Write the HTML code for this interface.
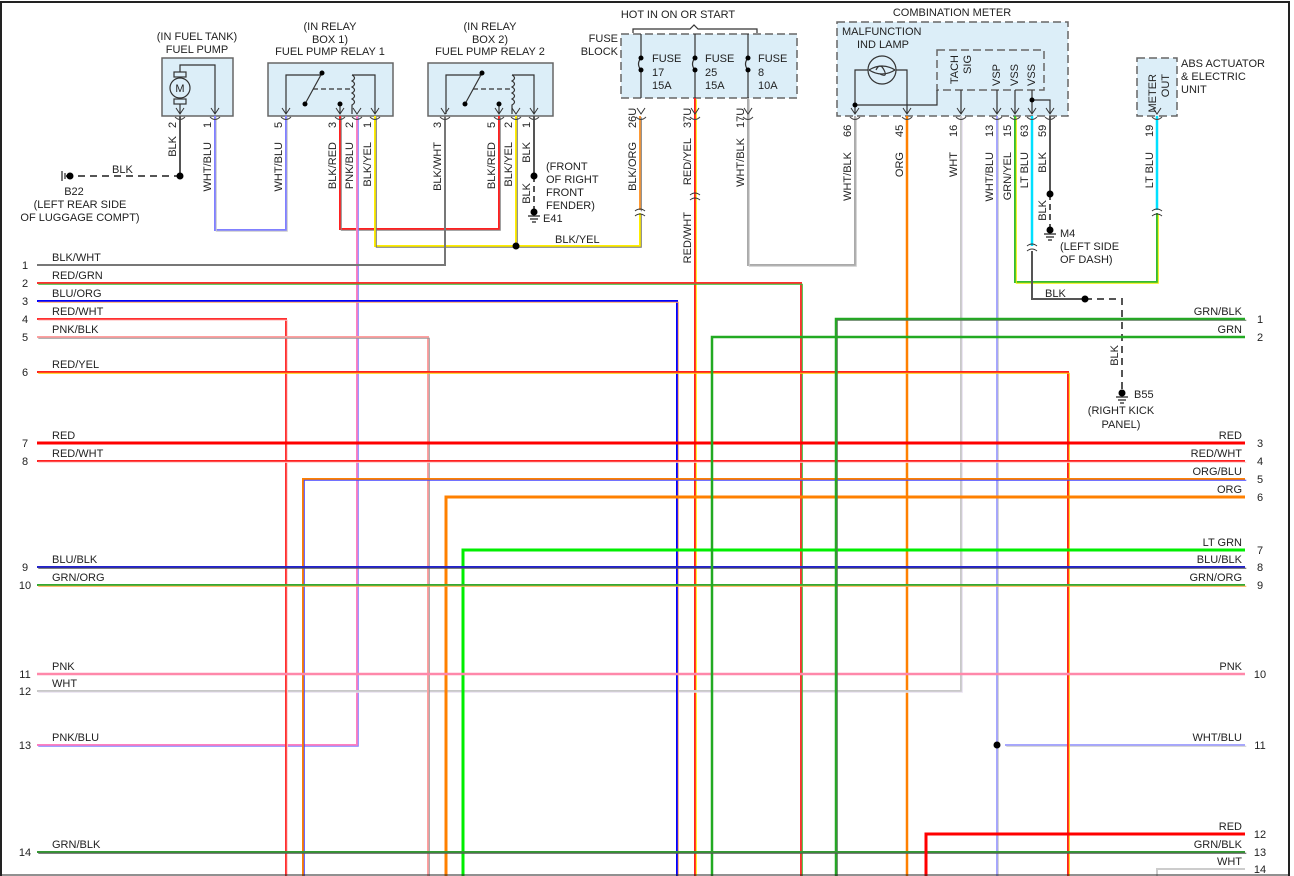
<!DOCTYPE html>
<html><head><meta charset="utf-8"><style>
html,body{margin:0;padding:0;background:#fff;}
svg{display:block;}
text{font-family:"Liberation Sans",sans-serif;font-size:11px;fill:#222;}
</style></head><body>
<svg id="s" width="1294" height="876" viewBox="0 0 1294 876" xmlns="http://www.w3.org/2000/svg">
<rect x="0" y="0" width="1294" height="876" fill="#fff"/>
<g id="boxes">
<rect x="162" y="58" width="71" height="58" fill="#dceef8" stroke="#666" stroke-width="1.5"/>
<rect x="268" y="63" width="125" height="53" fill="#dceef8" stroke="#666" stroke-width="1.5"/>
<rect x="428" y="63" width="125" height="53" fill="#dceef8" stroke="#666" stroke-width="1.5"/>
<rect x="621" y="34" width="176" height="64" fill="#dceef8" stroke="#666" stroke-width="1.5" stroke-dasharray="8,4"/>
<rect x="837" y="22" width="231" height="94" fill="#dceef8" stroke="#666" stroke-width="1.5" stroke-dasharray="8,4"/>
<rect x="937" y="50" width="107" height="40" fill="none" stroke="#666" stroke-width="1.5" stroke-dasharray="8,4"/>
<rect x="1137" y="58" width="40" height="58" fill="#dceef8" stroke="#666" stroke-width="1.5" stroke-dasharray="8,4"/>
</g>
<g id="wires"></g>
<g id="sym" fill="none" stroke="#333" stroke-width="1.2">
<circle cx="180" cy="88" r="10" fill="#dceef8"/>
<rect x="174" y="72" width="12" height="5"/><rect x="174" y="99" width="12" height="5"/>
<path d="M180 72 V65 H215 V114 M180 104 V114"/>
<path d="M286 114 V75 H322 M322 73 L305 104 M340 114 V104 M352 75 H375 V114 M352 75 q5 3 0 6 q5 3 0 6 q5 3 0 6 q5 3 0 6 q5 3 0 6 V114"/>
<path d="M313 89 H350" stroke-dasharray="5,3"/>
<path d="M446 114 V75 H482 M482 73 L465 104 M499 114 V104 M512 75 H534 V114 M512 75 q5 3 0 6 q5 3 0 6 q5 3 0 6 q5 3 0 6 q5 3 0 6 V114"/>
<path d="M473 89 H510" stroke-dasharray="5,3"/>
<path d="M641 34 V58 q-5 6 0 12 V98 M695 34 V58 q-5 6 0 12 V98 M748 34 V58 q-5 6 0 12 V98"/>
<path d="M633 33 V29 H690 l4 -4 l4 4 H757 V33"/>
<circle cx="882" cy="70" r="14" fill="#dceef8"/>
<path d="M855 114 V70 H868 M896 70 H907 V114 M869 70 q13 -8 26 0 M869 70 q13 8 26 0 M876 70 q4 -8 8 0 q4 8 -4 4"/>
<path d="M855 105 H937 V90 M961 90 V114 M997 90 V114 M1015 90 V114 M1032 90 V114 M1032 100 H1050 V114"/>
</g>
<g id="dots" fill="#000"></g>
<g id="txt"></g>
<path d="M1 876 V2 H1289 V876" fill="none" stroke="#222" stroke-width="2"/>
<path d="M1 875 H1289" stroke="#222" stroke-width="1"/>
</svg>
<script>
var NS="http://www.w3.org/2000/svg";
function el(g,t,a,txt){var e=document.createElementNS(NS,t);for(var k in a)e.setAttribute(k,a[k]);if(txt!=null)e.textContent=txt;document.getElementById(g).appendChild(e);return e;}
function pts(p){return p.map(function(q){return q.join(",")}).join(" ");}
function w(p,c,tr,wd,dash){wd=wd||2;var a={points:pts(p),fill:"none",stroke:c,"stroke-width":wd};if(dash)a["stroke-dasharray"]=dash;el("wires","polyline",a);
 if(tr){el("wires","polyline",{points:pts(p),fill:"none",stroke:tr,"stroke-width":1,transform:"translate(1.3,1.3)"});}}
var B=876,R=1245;
w([[180,116],[180,176]],"#555");
w([[66,176],[180,176]],"#555",null,2,"7,5");
w([[215,116],[215,230],[286,230],[286,116]],"#8080ff","#ccc");
w([[340,116],[340,229],[499,229],[499,116]],"#ff2020","#888");
w([[357,116],[357,745],[37,745]],"#ff80c0","#8080ff");
w([[375,116],[375,246],[640,246],[640,213]],"#ffee00","#777");
w([[516,116],[516,246]],"#ffee00","#777");
w([[640,116],[640,210]],"#ff9933","#777");
w([[445,116],[445,265],[37,265]],"#777");
w([[534,116],[534,176]],"#555");
w([[534,176],[534,212]],"#555",null,2,"6,4");
w([[695,98],[695,B]],"#ff2020","#ffee00");
w([[748,98],[748,265],[855,265],[855,116]],"#aaa","#ccc");
w([[907,116],[907,B]],"#ff8000",null,2.5);
w([[961,116],[961,691],[37,691]],"#c8c8c8","#e8e0f0");
w([[997,116],[997,B]],"#8888ff","#ccc",1.5);
w([[1005,745],[R,745]],"#8888ff","#ccc",1.5);
w([[1015,116],[1015,282],[1157,282],[1157,213]],"#33bb33","#eeee00");
w([[1157,116],[1157,210]],"#00e0ff",null,2.5);
w([[1032,116],[1032,246]],"#00e0ff",null,2.5);
w([[1032,251],[1032,299],[1085,299]],"#555");
w([[1085,299],[1122,299],[1122,392]],"#555",null,2,"7,5");
w([[1050,116],[1050,194]],"#555");
w([[1050,194],[1050,228]],"#555",null,2,"6,4");
w([[37,283],[801,283],[801,B]],"#ff3030","#33bb33");
w([[37,301],[677,301],[677,B]],"#0000ff","#ffaa66");
w([[37,319],[286,319],[286,B]],"#ff3030","#ffcccc");
w([[37,337],[428,337],[428,B]],"#ffa0a0","#999");
w([[37,372],[1068,372],[1068,B]],"#ff2020","#ffcc00");
w([[37,443],[R,443]],"#ff0000",null,3);
w([[37,461],[R,461]],"#ff2020","#ffcccc");
w([[303,B],[303,479],[R,479]],"#ff8000","#4444ff");
w([[446,B],[446,497],[R,497]],"#ff8000",null,3);
w([[463,B],[463,550],[R,550]],"#00ee00",null,3);
w([[37,567],[R,567]],"#2222cc","#555");
w([[37,585],[R,585]],"#33aa33","#ffaa44");
w([[37,674],[R,674]],"#ff88aa",null,2.5);
w([[836,B],[836,319],[R,319]],"#22aa22","#557755",2.5);
w([[712,B],[712,337],[R,337]],"#22aa22",null,2.5);
w([[37,852],[R,852]],"#339933","#555");
w([[926,B],[926,834],[R,834]],"#ff0000",null,3);
w([[1157,B],[1157,869],[R,869]],"#ccc");
[180,215,286,340,357,375,445,499,516,534,641,695,748,855,907,961,997,1015,1032,1050,1157].forEach(function(x){
 el("wires","path",{d:"M"+(x-5)+" 117 q5 5 10 0",fill:"none",stroke:"#444","stroke-width":1});
 el("wires","path",{d:"M"+(x-4)+" 108 L"+x+" 114 L"+(x+4)+" 108",fill:"none",stroke:"#333","stroke-width":1});
});
[[640,213],[695,197],[1032,248],[1157,213]].forEach(function(p){var x=p[0],y=p[1];
 el("wires","path",{d:"M"+(x-5)+" "+(y-2)+" q5 -4 10 0 M"+(x-5)+" "+(y+3)+" q5 -4 10 0",fill:"none",stroke:"#333","stroke-width":1});});
[[180,176],[516,246],[534,176],[1085,299],[997,745],[1050,194],[855,105],[1032,100],[322,73],[305,104],[340,104],[482,73],[465,104],[499,104],[641,58],[641,70],[695,58],[695,70],[748,58],[748,70]].forEach(function(p){el("dots","circle",{cx:p[0],cy:p[1],r:(p[1]<110?2.5:3.5)});});
function gnd(x,y,horiz){if(horiz){el("dots","path",{d:"M"+x+" "+(y-5)+" V"+(y+5)+" M"+(x+3)+" "+(y-3)+" V"+(y+3)+" M"+(x+6)+" "+(y-1)+" V"+(y+1),stroke:"#222","stroke-width":1.2,fill:"none"});el("dots","circle",{cx:x+8,cy:y,r:3.5});return;}
 el("dots","circle",{cx:x,cy:y,r:3.5});el("dots","path",{d:"M"+(x-6)+" "+(y+4)+" H"+(x+6)+" M"+(x-4)+" "+(y+7)+" H"+(x+4)+" M"+(x-2)+" "+(y+10)+" H"+(x+2),stroke:"#222","stroke-width":1.2,fill:"none"});}
gnd(62,176,true);gnd(534,212);gnd(1050,230);gnd(1122,393);
function t(x,y,s,anc){el("txt","text",{x:x,y:y,"text-anchor":anc||"start"},s);}
function v(x,y,s,anc){el("txt","text",{x:x,y:y,"text-anchor":anc||"end",transform:"rotate(-90 "+x+" "+y+")"},s);}
t(180,92,"M","middle");
t(197,40,"(IN FUEL TANK)","middle");t(197,53,"FUEL PUMP","middle");
t(330,30,"(IN RELAY","middle");t(330,43,"BOX 1)","middle");t(330,55,"FUEL PUMP RELAY 1","middle");
t(490,30,"(IN RELAY","middle");t(490,43,"BOX 2)","middle");t(490,55,"FUEL PUMP RELAY 2","middle");
t(678,18,"HOT IN ON OR START","middle");
t(618,42,"FUSE","end");t(618,55,"BLOCK","end");
[[652,"17","15A"],[705,"25","15A"],[758,"8","10A"]].forEach(function(f){t(f[0],62,"FUSE");t(f[0],76,f[1]);t(f[0],89,f[2]);});
t(952,16,"COMBINATION METER","middle");t(842,35,"MALFUNCTION");t(857,48,"IND LAMP");
t(1181,67,"ABS ACTUATOR");t(1181,80,"& ELECTRIC");t(1181,93,"UNIT");
v(958,55,"TACH");v(971,55,"SIG");v(1000,64,"VSP");v(1018,64,"VSS");v(1035,64,"VSS");v(1156,74,"METER");v(1169,74,"OUT");
t(546,170,"(FRONT");t(546,183,"OF RIGHT");t(546,196,"FRONT");t(546,209,"FENDER)");t(543,222,"E41");
t(1060,237,"M4");t(1060,250,"(LEFT SIDE");t(1060,263,"OF DASH)");
t(1045,297,"BLK");t(1134,398,"B55");t(1121,414,"(RIGHT KICK","middle");t(1121,428,"PANEL)","middle");
t(112,173,"BLK");t(74,195,"B22","middle");t(80,208,"(LEFT REAR SIDE","middle");t(80,221,"OF LUGGAGE COMPT)","middle");
t(555,243,"BLK/YEL");
var pins=[[180,"2","BLK",136,128],[215,"1","WHT/BLU",142,128],[286,"5","WHT/BLU",142,128],[340,"3","BLK/RED",142,128],[357,"2","PNK/BLU",142,128],[375,"1","BLK/YEL",142,128],
[445,"3","BLK/WHT",142,128],[499,"5","BLK/RED",142,128],[516,"2","BLK/YEL",142,128],[534,"1","BLK",142,128],[640,"26U","BLK/ORG",142,128],[695,"37U","RED/YEL",138,128],[748,"17U","WHT/BLK",138,128],
[855,"66","WHT/BLK",152,137],[907,"45","ORG",152,137],[961,"16","WHT",152,137],[997,"13","WHT/BLU",152,137],[1015,"15","GRN/YEL",152,137],[1032,"63","LT BLU",152,137],[1050,"59","BLK",152,137],[1157,"19","LT BLU",152,137]];
pins.forEach(function(p){var x=p[0]-4;v(x,p[4],p[1],"start");v(x,p[3],p[2]);});
v(691,212,"RED/WHT");v(530,183,"BLK");v(1046,200,"BLK");v(1118,345,"BLK");
var L=[[1,265,"BLK/WHT"],[2,283,"RED/GRN"],[3,301,"BLU/ORG"],[4,319,"RED/WHT"],[5,337,"PNK/BLK"],[6,372,"RED/YEL"],[7,443,"RED"],[8,461,"RED/WHT"],[9,567,"BLU/BLK"],[10,585,"GRN/ORG"],[11,674,"PNK"],[12,691,"WHT"],[13,745,"PNK/BLU"],[14,852,"GRN/BLK"]];
L.forEach(function(r){t(25,r[1]+4,String(r[0]),"middle");t(52,r[1]-4,r[2]);});
var Rr=[[1,319,"GRN/BLK"],[2,337,"GRN"],[3,443,"RED"],[4,461,"RED/WHT"],[5,479,"ORG/BLU"],[6,497,"ORG"],[7,550,"LT GRN"],[8,567,"BLU/BLK"],[9,585,"GRN/ORG"],[10,674,"PNK"],[11,745,"WHT/BLU"],[12,834,"RED"],[13,852,"GRN/BLK"],[14,869,"WHT"]];
Rr.forEach(function(r){t(1260,r[1]+4,String(r[0]),"middle");t(1242,r[1]-4,r[2],"end");});
</script>
</body></html>
